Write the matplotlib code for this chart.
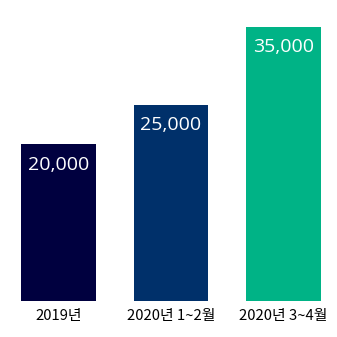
import matplotlib
matplotlib.use("Agg")
import matplotlib.pyplot as plt

categories = ["2019년", "2020년 1~2월", "2020년 3~4월"]
values = [20000, 25000, 35000]
colors = ["#00003F", "#00306A", "#00B386"]

plt.rcParams['font.family'] = ['Noto Sans CJK KR', 'DejaVu Sans']

fig = plt.figure(figsize=(3.37, 3.37), dpi=100)
ax = fig.add_axes([2.25/337, 36/337, 337.5/337, 274/337])
x = list(range(len(categories)))
bars = ax.bar(x, values, width=0.66, color=colors)
ax.set_xlim(-0.5, 2.5)
ax.set_ylim(0, 35000)
for xi, v in zip(x, values):
    ax.annotate(f"{v:,}", (xi, v), xytext=(0, -8), textcoords="offset points",
                ha="center", va="top", color="white", fontsize=14,
                family=['Open Sans', 'DejaVu Sans'])
ax.set_xticks(x)
ax.set_xticklabels(categories, fontsize=10.7)
ax.tick_params(axis='x', length=0, pad=6)
ax.set_yticks([])
for s in ax.spines.values():
    s.set_visible(False)
fig.savefig("out.png", dpi=100)
